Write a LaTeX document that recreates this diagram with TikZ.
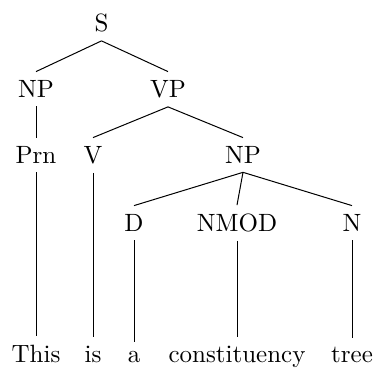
\documentclass[tikz,border=0pt]{standalone}
\begin{document}
\begin{tikzpicture}[x=0.4pt,y=-0.4pt,
  tn/.style={anchor=base,inner sep=3.33pt},
  edge/.style={draw,line width=0.4pt}]
\useasboundingbox (0,0) rectangle (373,367);
\node[tn] (S) at (101.5,31.5) {S};
\node[tn] (NP1) at (36,97.5) {NP};
\node[tn] (VP) at (168,97.5) {VP};
\node[tn] (Prn) at (36,163.5) {Prn};
\node[tn] (V) at (93,163.5) {V};
\node[tn] (NP2) at (243,163.5) {NP};
\node[tn] (D) at (134,231.5) {D};
\node[tn] (NMOD) at (237,231.5) {NMOD};
\node[tn] (N) at (352,231.5) {N};
\node[tn] (w1) at (36,362.5) {This};
\node[tn] (w2) at (93,362.5) {is};
\node[tn] (w3) at (134,362.5) {a};
\node[tn] (w4) at (237,362.5) {constituency};
\node[tn] (w5) at (352,362.5) {tree};
\path[edge] (S.south) -- (NP1.north);
\path[edge] (S.south) -- (VP.north);
\path[edge] (NP1.south) -- (Prn.north);
\path[edge] (VP.south) -- (V.north);
\path[edge] (VP.south) -- (NP2.north);
\path[edge] (NP2.south) -- (D.north);
\path[edge] (NP2.south) -- (NMOD.north);
\path[edge] (NP2.south) -- (N.north);
\path[edge] (Prn.south) -- (w1.north);
\path[edge] (V.south) -- (w2.north);
\path[edge] (D.south) -- (w3.north);
\path[edge] (NMOD.south) -- (w4.north);
\path[edge] (N.south) -- (w5.north);
\end{tikzpicture}
\end{document}
